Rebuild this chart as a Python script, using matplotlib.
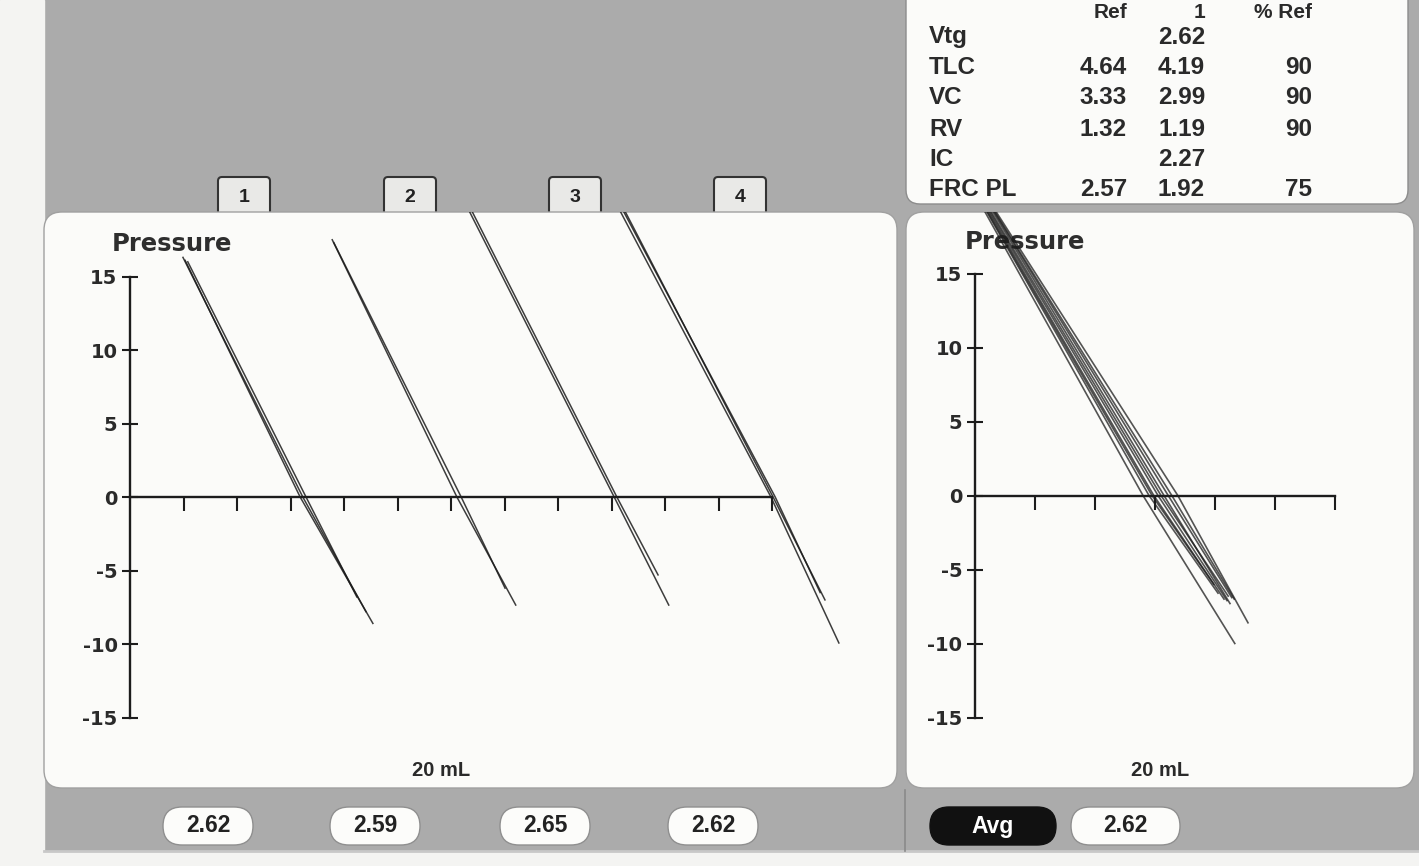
import matplotlib
matplotlib.use('Agg')
import matplotlib.pyplot as plt
from matplotlib.patches import FancyBboxPatch, Rectangle

plt.rcParams['axes.unicode_minus'] = False

# ---------------- data ----------------
table_header = ['Ref', '1', '% Ref']
table_rows = ['Vtg', 'TLC', 'VC', 'RV', 'IC', 'FRC PL']
ref_vals = ['', '4.64', '3.33', '1.32', '', '2.57']
meas_vals = ['2.62', '4.19', '2.99', '1.19', '2.27', '1.92']
pct_vals = ['', '90', '90', '90', '', '75']

shutter_labels = ['1', '2', '3', '4']
trial_values = ['2.62', '2.59', '2.65', '2.62']
avg_label = 'Avg'
avg_value = '2.62'

y_ticks = [15, 10, 5, 0, -5, -10, -15]
left_x_ticks = [1, 2, 3, 4, 5, 6, 7, 8, 9, 10, 11, 12]
right_x_ticks = [1, 2, 3, 4, 5, 6]
y_label = 'Pressure'
x_label = '20 mL'

# Left panel traces (volume in tick units, pressure), 4 shutter manoeuvres
trial1_x = [[1.03, 3.18, 4.54],
            [1.08, 3.29, 4.24],
            [0.99, 3.23, 4.41]]
trial1_p = [[16.1, 0.0, -8.6],
            [16.0, 0.0, -6.8],
            [16.3, 0.0, -7.8]]
trial2_x = [[3.78, 6.11, 7.21],
            [3.81, 6.19, 7.01]]
trial2_p = [[17.5, 0.0, -7.35],
            [17.3, 0.0, -6.2]]
trial3_x = [[6.32, 9.05, 10.07],
            [6.37, 9.10, 9.87]]
trial3_p = [[19.6, 0.0, -7.35],
            [19.6, 0.0, -5.3]]
trial4_x = [[9.14, 11.98, 13.25],
            [9.20, 12.06, 12.90],
            [9.23, 12.02, 12.99]]
trial4_p = [[19.6, 0.0, -9.93],
            [19.6, 0.0, -6.5],
            [19.6, 0.0, -7.0]]

# Right panel: all loops overlaid
avg_x = [[0.12, 2.80, 4.33],
         [0.30, 3.38, 4.55],
         [0.15, 2.90, 4.05],
         [0.18, 2.98, 4.15],
         [0.20, 3.05, 4.20],
         [0.22, 3.10, 4.22],
         [0.25, 3.15, 4.25],
         [0.27, 3.22, 4.28],
         [0.16, 2.95, 3.98],
         [0.28, 3.28, 4.32]]
avg_p = [[19.5, 0.0, -10.0],
         [19.5, 0.0, -8.6],
         [19.5, 0.0, -6.6],
         [19.5, 0.0, -7.0],
         [19.5, 0.0, -7.1],
         [19.5, 0.0, -6.8],
         [19.5, 0.0, -7.3],
         [19.5, 0.0, -6.9],
         [19.5, 0.0, -6.0],
         [19.5, 0.0, -7.0]]

# ---------------- style ----------------
W, H = 1419, 866
GRAY = '#ababab'
MARGIN = '#f4f4f2'
PANEL = '#fbfbf9'
INK = '#1c1c1c'
TXT = '#2a2a2a'

fig = plt.figure(figsize=(W / 100, H / 100), dpi=100)
bg = fig.add_axes([0, 0, 1, 1])
bg.set_xlim(0, W)
bg.set_ylim(H, 0)
bg.axis('off')

bg.add_patch(Rectangle((0, 0), W, H, color=GRAY, zorder=0))
bg.add_patch(Rectangle((0, 0), 44, H, color=MARGIN, zorder=1))
bg.add_patch(Rectangle((0, 852), W, H - 852, color=MARGIN, zorder=1))
bg.plot([44, W], [851, 851], color='#c8c8c8', lw=2, zorder=1)
bg.plot([905, 905], [790, 851], color='#8a8a8a', lw=1.2, zorder=1)


def rbox(x0, y0, x1, y1, r, fc, ec='none', lw=0, z=2):
    p = FancyBboxPatch((x0 + r, y0 + r), (x1 - x0) - 2 * r, (y1 - y0) - 2 * r,
                       boxstyle=f'round,pad={r},rounding_size={r}',
                       fc=fc, ec=ec, lw=lw, zorder=z)
    bg.add_patch(p)
    return p


# tabs
tab_centers = [244, 410, 575, 740]
for c, lab in zip(tab_centers, shutter_labels):
    rbox(c - 26, 177, c + 26, 230, 4, '#e9e9e7', '#333333', 1.5, z=2)
    bg.text(c, 197, lab, ha='center', va='center', fontsize=14,
            fontweight='bold', color='#222222', family='Liberation Sans', zorder=3)

# panels
rbox(44, 212, 897, 788, 18, PANEL, '#a0a0a0', 1.0, z=3)
rbox(906, 212, 1414, 788, 18, PANEL, '#a0a0a0', 1.0, z=3)
rbox(906, -40, 1408, 204, 14, PANEL, '#8c8c8c', 1.0, z=3)

# table
tfont = dict(fontsize=17.5, fontweight='bold', color=TXT,
             family='Liberation Sans', zorder=4)
hfont = dict(tfont, fontsize=15)
col_right = [1127, 1205, 1312]
for cx, h in zip(col_right, table_header):
    bg.text(cx, 12, h, ha='right', va='center', **hfont)
row_y = [37, 67, 98, 129, 159, 190]
for y, lab, r, m, pc in zip(row_y, table_rows, ref_vals, meas_vals, pct_vals):
    bg.text(929, y, lab, ha='left', va='center', **tfont)
    for cx, v in zip(col_right, [r, m, pc]):
        if v:
            bg.text(cx, y, v, ha='right', va='center', **tfont)

# pills
pfont = dict(fontsize=16.5, fontweight='bold', family='Liberation Sans', zorder=3)
pill_centers = [208, 375, 545, 713]
for c, v in zip(pill_centers, trial_values):
    rbox(c - 45, 807, c + 45, 845, 19, '#fcfcfa', '#8f8f8f', 1.0, z=2)
    bg.text(c, 826, v, ha='center', va='center', color='#222222', **pfont)
rbox(930, 807, 1056, 845, 19, '#111111', '#111111', 1.0, z=2)
bg.text(993, 826, avg_label, ha='center', va='center', color='white', **pfont)
rbox(1071, 807, 1180, 845, 19, '#fcfcfa', '#8f8f8f', 1.0, z=2)
bg.text(1125, 826, avg_value, ha='center', va='center', color='#222222', **pfont)


def px_axes(x0, y0, x1, y1):
    return fig.add_axes([x0 / W, 1 - y1 / H, (x1 - x0) / W, (y1 - y0) / H])


def style_axes(ax, xlim, ylim, xbound, xticks):
    ax.set_xlim(*xlim)
    ax.set_ylim(*ylim)
    ax.set_facecolor('none')
    for s in ['top', 'right']:
        ax.spines[s].set_visible(False)
    ax.spines['left'].set_position(('data', 0))
    ax.spines['bottom'].set_position(('data', 0))
    ax.spines['left'].set_bounds(-15, 15)
    ax.spines['bottom'].set_bounds(0, xbound)
    for s in ['left', 'bottom']:
        ax.spines[s].set_linewidth(1.7)
        ax.spines[s].set_color(INK)
    ax.set_yticks(y_ticks)
    ax.set_yticklabels([str(v) for v in y_ticks])
    ax.set_xticks(xticks)
    ax.set_xticklabels([])
    ax.tick_params(axis='y', direction='inout', length=12, width=1.5,
                   color=INK, pad=3, labelsize=14, labelcolor=TXT)
    ax.tick_params(axis='x', direction='out', length=10, width=1.5,
                   color=INK)
    for t in ax.get_yticklabels():
        t.set_fontweight('bold')
        t.set_family('DejaVu Sans')


axL = px_axes(44, 212, 897, 788)
style_axes(axL, ((44 - 130) / 53.5, (897 - 130) / 53.5),
           ((497 - 788) / 14.7, (497 - 212) / 14.7), 12, left_x_ticks)
for xs, ps in [(trial1_x, trial1_p), (trial2_x, trial2_p),
               (trial3_x, trial3_p), (trial4_x, trial4_p)]:
    for x, p in zip(xs, ps):
        axL.plot(x, p, color=INK, lw=1.1, alpha=0.85, zorder=5)

axR = px_axes(906, 212, 1414, 788)
style_axes(axR, ((906 - 975) / 60, (1414 - 975) / 60),
           ((495.5 - 788) / 14.8, (495.5 - 212) / 14.8), 6, right_x_ticks)
for x, p in zip(avg_x, avg_p):
    axR.plot(x, p, color=INK, lw=1.2, alpha=0.75, zorder=5)

# labels
lab = dict(fontsize=17.5, fontweight='bold', color='#2e2e2e',
           family='DejaVu Sans', zorder=4)
bg.text(112, 244, y_label, ha='left', va='center', **lab)
bg.text(965, 242, y_label, ha='left', va='center', **lab)
bg.text(441, 770, x_label, ha='center', va='center', fontsize=14.5,
        fontweight='bold', color=TXT, family='Liberation Sans', zorder=4)
bg.text(1160, 770, x_label, ha='center', va='center', fontsize=14.5,
        fontweight='bold', color=TXT, family='Liberation Sans', zorder=4)

fig.savefig('out.png', dpi=100)
